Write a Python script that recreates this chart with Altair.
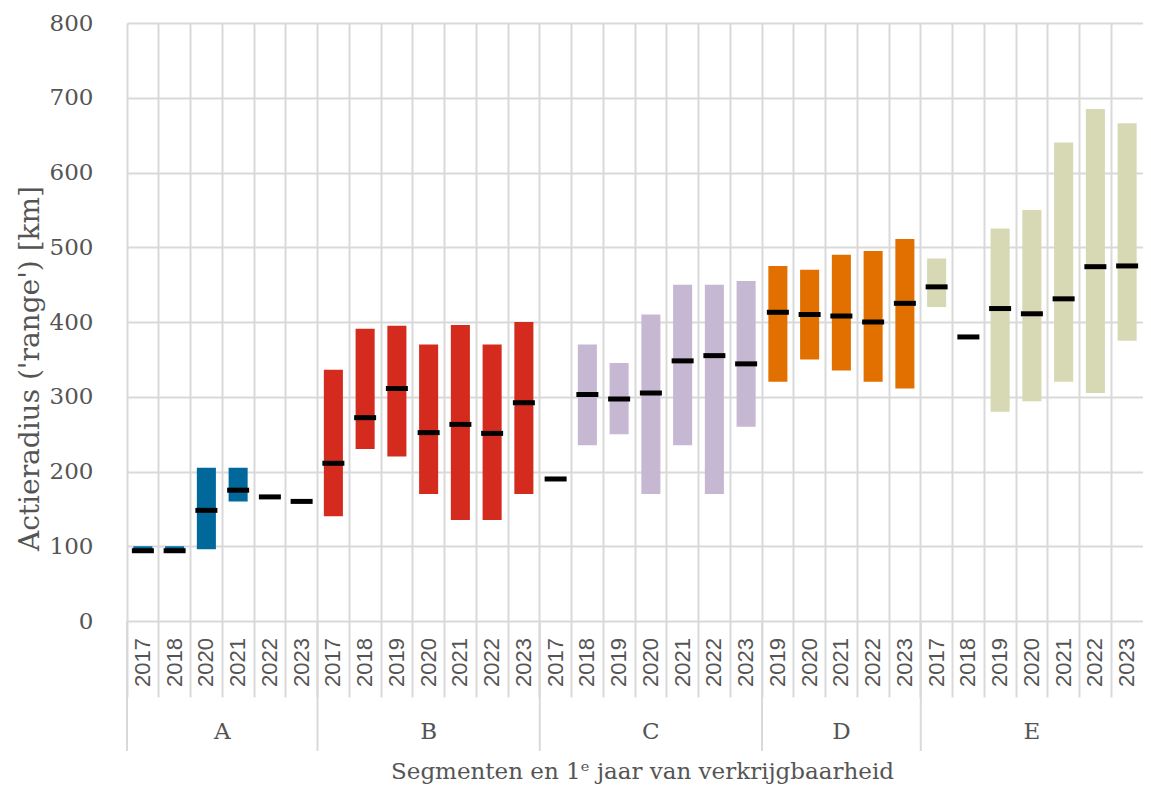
import altair as alt
import pandas as pd

# ---- data ----
segment = ["A"] * 6 + ["B"] * 7 + ["C"] * 7 + ["D"] * 5 + ["E"] * 7
year = [2017, 2018, 2020, 2021, 2022, 2023,
        2017, 2018, 2019, 2020, 2021, 2022, 2023,
        2017, 2018, 2019, 2020, 2021, 2022, 2023,
        2019, 2020, 2021, 2022, 2023,
        2017, 2018, 2019, 2020, 2021, 2022, 2023]
low = [91, 91, 96, 160, None, None,
       140, 230, 220, 170, 135, 135, 170,
       None, 235, 250, 170, 235, 170, 260,
       320, 350, 335, 320, 311,
       420, None, 280, 294, 320, 305, 375]
high = [100, 100, 205, 205, None, None,
        336, 391, 395, 370, 396, 370, 400,
        None, 370, 345, 410, 450, 450, 455,
        475, 470, 490, 495, 511,
        485, None, 525, 550, 640, 685, 666]
median = [94, 94, 148, 175, 166, 160,
          211, 272, 311, 252, 263, 251, 292,
          190, 303, 297, 305, 348, 355, 344,
          413, 410, 408, 400, 425,
          447, 380, 418, 411, 431, 474, 475]

seg_names = ["A", "B", "C", "D", "E"]
seg_colors = ["#01689b", "#d52b1e", "#c6b8d2", "#e17000", "#d7d8b4"]

x_title = "Segmenten en 1ᵉ jaar van verkrijgbaarheid"
y_title = "Actieradius ('range') [km]"

# ---- tables ----
keys = [f"{s}|{y}" for s, y in zip(segment, year)]
df = pd.DataFrame({"segment": segment, "year": [str(y) for y in year],
                   "key": keys, "low": low, "high": high, "median": median})

first_keys, mid_even, mid_odd = [], [], []
for s in seg_names:
    ks = [k for k, sg in zip(keys, segment) if sg == s]
    first_keys.append(ks[0])
    n = len(ks)
    if n % 2 == 0:
        mid_even.append({"key": ks[n // 2], "segment": s})
    else:
        mid_odd.append({"key": ks[n // 2], "segment": s})
sep_df = pd.DataFrame({"key": first_keys})
even_df = pd.DataFrame(mid_even)
odd_df = pd.DataFrame(mid_odd)

W, H = 1016, 598
GRID = "#d9d9d9"
TXT = "#555555"
SERIF = "DejaVu Serif"

xscale = alt.Scale(domain=keys, paddingInner=0, paddingOuter=0)

base = alt.Chart(df)

bars = base.transform_filter("datum.low != null").mark_bar(
    width=alt.RelativeBandSize(0.6)
).encode(
    x=alt.X("key:N", sort=keys, scale=xscale,
            axis=alt.Axis(bandPosition=0, grid=True, gridColor=GRID, gridWidth=2,
                          ticks=True, tickSize=76, tickColor=GRID, tickWidth=2,
                          labels=False, domain=False,
                          title=x_title, titleFont=SERIF, titleFontSize=23,
                          titleFontWeight="normal", titleColor=TXT,
                          titleBaseline="alphabetic", titleY=157, titleX=W / 2 + 7)),
    y=alt.Y("low:Q", scale=alt.Scale(domain=[0, 800], nice=False),
            axis=alt.Axis(values=list(range(0, 801, 100)), grid=True, gridColor=GRID,
                          gridWidth=2, ticks=False, domain=False,
                          labelFont=SERIF, labelFontSize=23, labelColor=TXT,
                          labelPadding=34,
                          title=y_title, titleFont=SERIF, titleFontSize=28,
                          titleFontWeight="normal", titleColor=TXT,
                          titleX=-97, titleY=345, titleBaseline="middle")),
    y2="high:Q",
    color=alt.Color("segment:N", scale=alt.Scale(domain=seg_names, range=seg_colors),
                    legend=None),
)

meds = base.mark_tick(orient="horizontal", size=22, thickness=5, color="black",
                      opacity=1).encode(
    x=alt.X("key:N", sort=keys, scale=xscale),
    y=alt.Y("median:Q"),
)

year_labels = base.mark_text(angle=270, align="right", baseline="middle",
                             font="Liberation Sans", fontSize=22, color=TXT).encode(
    x=alt.X("key:N", sort=keys, scale=xscale),
    y=alt.value(H + 17),
    text="year:N",
)

seps = alt.Chart(sep_df).mark_rule(color=GRID, strokeWidth=2).encode(
    x=alt.X("key:N", sort=keys, scale=xscale, bandPosition=0),
    y=alt.value(H),
    y2=alt.value(H + 130),
)

seg_even = alt.Chart(even_df).mark_text(font=SERIF, fontSize=23, color=TXT,
                                        baseline="middle").encode(
    x=alt.X("key:N", sort=keys, scale=xscale, bandPosition=0),
    y=alt.value(H + 111),
    text="segment:N",
)
seg_odd = alt.Chart(odd_df).mark_text(font=SERIF, fontSize=23, color=TXT,
                                      baseline="middle").encode(
    x=alt.X("key:N", sort=keys, scale=xscale),
    y=alt.value(H + 111),
    text="segment:N",
)

chart = alt.layer(bars, meds, year_labels, seps, seg_even, seg_odd).properties(
    width=W, height=H,
    autosize=alt.AutoSizeParams(type="none"),
    padding={"left": 119, "top": 15, "right": 0, "bottom": 168},
).configure_view(stroke=None).configure_axis(labelFontWeight="normal")

chart.save("out.html", embed_options={"renderer": "svg", "actions": False})
